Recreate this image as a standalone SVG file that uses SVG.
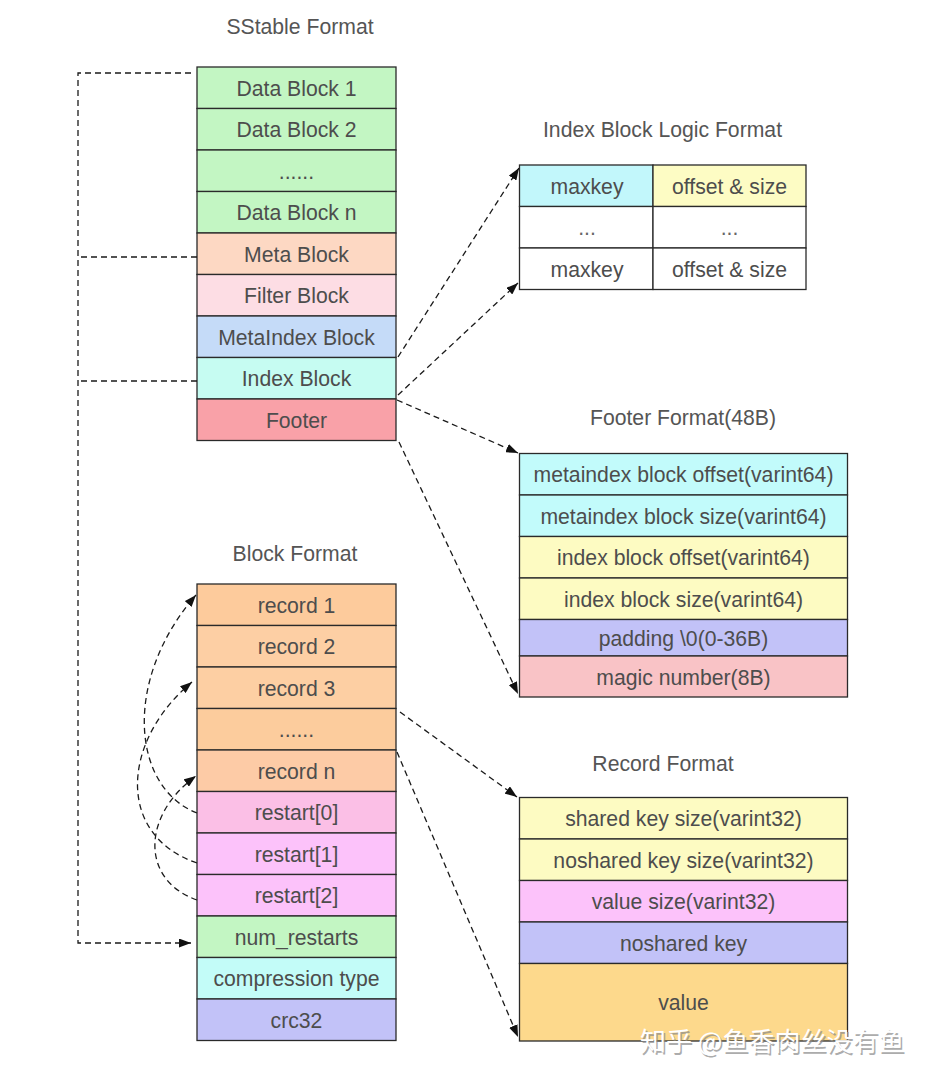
<svg xmlns="http://www.w3.org/2000/svg" width="936" height="1080" viewBox="0 0 936 1080">
<defs>
<marker id="ah" viewBox="0 0 12 9" refX="12" refY="4.5" markerWidth="12" markerHeight="9" markerUnits="userSpaceOnUse" orient="auto">
<path d="M0,0 L12,4.5 L0,9 z" fill="#111"/>
</marker>
<style>
text{font-family:"Liberation Sans",Arial,Helvetica,sans-serif;font-size:21.2px;fill:#4d4d4d;text-anchor:middle}
.title{fill:#555}
.c{stroke:#2a2a2a;stroke-width:1.3}
.dash{fill:none;stroke:#1a1a1a;stroke-width:1.3;stroke-dasharray:6 4}
.dots{fill:#666}
.wm{font-family:"Noto Sans CJK SC","Noto Sans",sans-serif;font-size:26px;text-anchor:start}
</style>
</defs>
<rect width="936" height="1080" fill="#fff"/>

<g id="sstable">
<text class="title" x="300" y="34">SStable Format</text>
<rect class="c" x="197" y="67" width="199" height="41.5" fill="#c3f6c3"/>
<rect class="c" x="197" y="108.5" width="199" height="41.5" fill="#c3f6c3"/>
<rect class="c" x="197" y="150" width="199" height="41.5" fill="#c3f6c3"/>
<rect class="c" x="197" y="191.5" width="199" height="41.5" fill="#c3f6c3"/>
<rect class="c" x="197" y="233" width="199" height="41.5" fill="#fdd8c3"/>
<rect class="c" x="197" y="274.5" width="199" height="41.5" fill="#fddde4"/>
<rect class="c" x="197" y="316" width="199" height="41.5" fill="#c5dbf8"/>
<rect class="c" x="197" y="357.5" width="199" height="41.5" fill="#c6fcf2"/>
<rect class="c" x="197" y="399" width="199" height="41.5" fill="#f9a1a8"/>
<text x="296.5" y="95.5">Data Block 1</text>
<text x="296.5" y="137">Data Block 2</text>
<text x="296.5" y="178.5">......</text>
<text x="296.5" y="220">Data Block n</text>
<text x="296.5" y="261.5">Meta Block</text>
<text x="296.5" y="303">Filter Block</text>
<text x="296.5" y="344.5">MetaIndex Block</text>
<text x="296.5" y="386">Index Block</text>
<text x="296.5" y="427.5">Footer</text>
</g>

<g id="index-logic">
<text class="title" x="662.5" y="136.5">Index Block Logic Format</text>
<rect class="c" x="519.5" y="165" width="133.5" height="41.5" fill="#c2f7fb"/>
<rect class="c" x="653" y="165" width="153" height="41.5" fill="#fdfcc4"/>
<rect class="c" x="519.5" y="206.5" width="133.5" height="41.5" fill="#fff"/>
<rect class="c" x="653" y="206.5" width="153" height="41.5" fill="#fff"/>
<rect class="c" x="519.5" y="248" width="133.5" height="41.5" fill="#fff"/>
<rect class="c" x="653" y="248" width="153" height="41.5" fill="#fff"/>
<text x="587" y="193.5">maxkey</text>
<text x="729.5" y="193.5">offset &amp; size</text>
<text class="dots" x="587" y="235">...</text>
<text class="dots" x="729.5" y="235">...</text>
<text x="587" y="276.5">maxkey</text>
<text x="729.5" y="276.5">offset &amp; size</text>
</g>

<g id="footer-format">
<text class="title" x="683" y="424.5">Footer Format(48B)</text>
<rect class="c" x="519.5" y="453.5" width="328" height="41.5" fill="#c2fbfb"/>
<rect class="c" x="519.5" y="495" width="328" height="41.5" fill="#c2fbfb"/>
<rect class="c" x="519.5" y="536.5" width="328" height="41.5" fill="#fdfbc2"/>
<rect class="c" x="519.5" y="578" width="328" height="41.5" fill="#fdfbc2"/>
<rect class="c" x="519.5" y="619.5" width="328" height="36.5" fill="#c2c2f8"/>
<rect class="c" x="519.5" y="656" width="328" height="41" fill="#f9c3c6"/>
<text x="683.5" y="482">metaindex block offset(varint64)</text>
<text x="683.5" y="523.5">metaindex block size(varint64)</text>
<text x="683.5" y="565">index block offset(varint64)</text>
<text x="683.5" y="606.5">index block size(varint64)</text>
<text x="683.5" y="645.5">padding \0(0-36B)</text>
<text x="683.5" y="684.5">magic number(8B)</text>
</g>

<g id="block-format">
<text class="title" x="295" y="561">Block Format</text>
<rect class="c" x="197" y="584" width="199" height="41.5" fill="#fdcb9c"/>
<rect class="c" x="197" y="625.5" width="199" height="41.5" fill="#fdcfa4"/>
<rect class="c" x="197" y="667" width="199" height="41.5" fill="#fdcfa3"/>
<rect class="c" x="197" y="708.5" width="199" height="41.5" fill="#fccc9d"/>
<rect class="c" x="197" y="750" width="199" height="41.5" fill="#fdcba6"/>
<rect class="c" x="197" y="791.5" width="199" height="41.5" fill="#fbbfe6"/>
<rect class="c" x="197" y="833" width="199" height="41.5" fill="#fcc2fa"/>
<rect class="c" x="197" y="874.5" width="199" height="41.5" fill="#fcc2fa"/>
<rect class="c" x="197" y="916" width="199" height="41.5" fill="#c3f6c3"/>
<rect class="c" x="197" y="957.5" width="199" height="41.5" fill="#c3fcf8"/>
<rect class="c" x="197" y="999" width="199" height="41.5" fill="#c2c2f8"/>
<text x="296.5" y="612.5">record 1</text>
<text x="296.5" y="654">record 2</text>
<text x="296.5" y="695.5">record 3</text>
<text x="296.5" y="737">......</text>
<text x="296.5" y="778.5">record n</text>
<text x="296.5" y="820">restart[0]</text>
<text x="296.5" y="861.5">restart[1]</text>
<text x="296.5" y="903">restart[2]</text>
<text x="296.5" y="944.5">num_restarts</text>
<text x="296.5" y="986">compression type</text>
<text x="296.5" y="1027.5">crc32</text>
</g>

<g id="record-format">
<text class="title" x="663" y="770.5">Record Format</text>
<rect class="c" x="519.5" y="797.5" width="328" height="41.5" fill="#fdfbc2"/>
<rect class="c" x="519.5" y="839" width="328" height="41.5" fill="#fdfbc2"/>
<rect class="c" x="519.5" y="880.5" width="328" height="41.5" fill="#fcc2fa"/>
<rect class="c" x="519.5" y="922" width="328" height="41.5" fill="#c2c2f8"/>
<rect class="c" x="519.5" y="963.5" width="328" height="77.5" fill="#fdd98c"/>
<text x="683.5" y="826">shared key size(varint32)</text>
<text x="683.5" y="867.5">noshared key size(varint32)</text>
<text x="683.5" y="909">value size(varint32)</text>
<text x="683.5" y="950.5">noshared key</text>
<text x="683.5" y="1010">value</text>
</g>

<g id="connectors">
<path class="dash" d="M191,73 H78 V943 H191" marker-end="url(#ah)"/>
<path class="dash" d="M197,257 H78"/>
<path class="dash" d="M197,381 H78"/>
<path class="dash" d="M398,357 L519,168" marker-end="url(#ah)"/>
<path class="dash" d="M398,395 L518,283" marker-end="url(#ah)"/>
<path class="dash" d="M397,400 L518,453" marker-end="url(#ah)"/>
<path class="dash" d="M399,442 L518,694" marker-end="url(#ah)"/>
<path class="dash" d="M400,712 L517,797" marker-end="url(#ah)"/>
<path class="dash" d="M397,752 L518,1037" marker-end="url(#ah)"/>
<path class="dash" d="M197,813 C132,788 122,680 196,595" marker-end="url(#ah)"/>
<path class="dash" d="M197,863 C115,835 122,740 192,682" marker-end="url(#ah)"/>
<path class="dash" d="M197,900 C140,880 142,815 196,776" marker-end="url(#ah)"/>
</g>

<g id="watermark">
<text class="wm" x="641.5" y="1052.5" style="fill:#8a8a8a;opacity:0.7">知乎 @鱼香肉丝没有鱼</text>
<text class="wm" x="640" y="1051" style="fill:#ffffff">知乎 @鱼香肉丝没有鱼</text>
</g>
</svg>
